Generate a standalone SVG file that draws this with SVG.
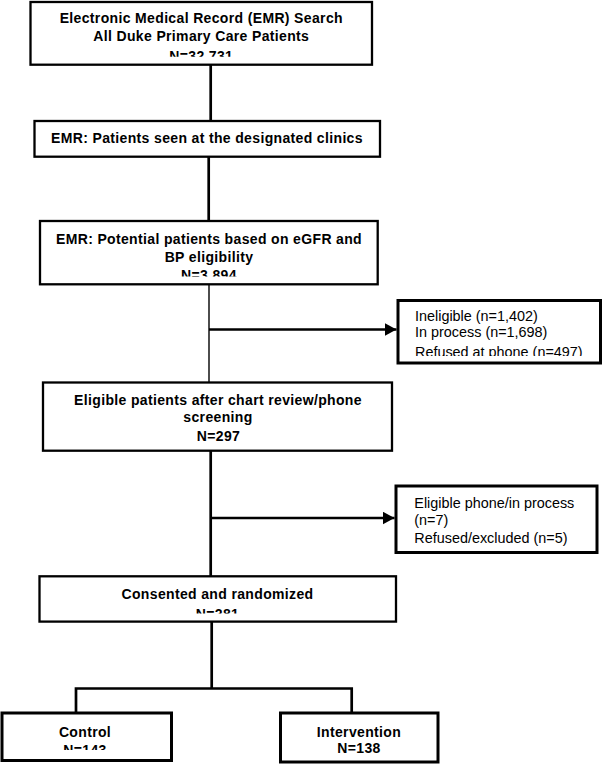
<svg xmlns="http://www.w3.org/2000/svg" width="603" height="764" viewBox="0 0 603 764">
<style>
.box{fill:#fff;stroke:#000;stroke-width:2.3}
.box2{fill:#fff;stroke:#000;stroke-width:3}
.b{font-family:"Liberation Sans",Arial,sans-serif;font-weight:bold;font-size:14px;letter-spacing:0.35px;text-anchor:middle;fill:#000}
.r{font-family:"Liberation Sans",Arial,sans-serif;font-size:14.4px;fill:#000}
.ln{stroke:#000;stroke-width:2.7;fill:none}
.thin{stroke:#000;stroke-width:1.4;fill:none}
</style>
<defs>
<clipPath id="c1"><rect x="0" y="0" width="603" height="56.7"/></clipPath>
<clipPath id="c3"><rect x="0" y="200" width="603" height="76.5"/></clipPath>
<clipPath id="cs1"><rect x="0" y="300" width="603" height="56"/></clipPath>
<clipPath id="c5"><rect x="0" y="570" width="603" height="43.5"/></clipPath>
<clipPath id="cc"><rect x="0" y="700" width="603" height="50"/></clipPath>
<marker id="ah" markerWidth="12" markerHeight="13" refX="12" refY="6.5" orient="auto" markerUnits="userSpaceOnUse">
<path d="M0,0 L12,6.5 L0,13 Z" fill="#000"/>
</marker>
</defs>
<g id="connectors">
<line class="ln" x1="210.7" y1="65" x2="210.7" y2="121"/>
<line class="ln" x1="208.7" y1="157" x2="208.7" y2="221"/>
<line class="thin" x1="209" y1="284" x2="209" y2="382"/>
<line class="ln" x1="209" y1="329.5" x2="396.5" y2="329.5" marker-end="url(#ah)"/>
<line class="ln" x1="210.7" y1="451" x2="210.7" y2="576"/>
<line class="ln" x1="210.7" y1="518" x2="394.5" y2="518" marker-end="url(#ah)"/>
<line class="ln" x1="211.7" y1="622" x2="211.7" y2="688.5"/>
<polyline class="ln" points="76,713 76,688.5 351.7,688.5 351.7,713"/>
</g>
<g id="n1">
<rect class="box" x="30.5" y="2" width="341.5" height="62.7"/>
<text class="b" x="201.3" y="22.7">Electronic Medical Record (EMR) Search</text>
<text class="b" x="201.3" y="40.7">All Duke Primary Care Patients</text>
<text class="b" x="201.3" y="60.5" clip-path="url(#c1)">N=32,731</text>
</g>
<g id="n2">
<rect class="box" x="34.5" y="121" width="345.5" height="35.7"/>
<text class="b" x="207" y="143.3">EMR: Patients seen at the designated clinics</text>
</g>
<g id="n3">
<rect class="box" x="40" y="221" width="337.7" height="63.3"/>
<text class="b" x="209" y="243.7">EMR: Potential patients based on eGFR and</text>
<text class="b" x="209" y="261.5">BP eligibility</text>
<text class="b" x="209" y="280.3" clip-path="url(#c3)">N=3,894</text>
</g>
<g id="s1">
<rect class="box2" x="398" y="300.5" width="202.5" height="62.5"/>
<text class="r" x="415" y="320.7">Ineligible (n=1,402)</text>
<text class="r" x="415" y="337.3">In process (n=1,698)</text>
<text class="r" x="415" y="356.5" clip-path="url(#cs1)">Refused at phone (n=497)</text>
</g>
<g id="n4">
<rect class="box" x="43" y="382.5" width="349" height="68.2"/>
<text class="b" x="218" y="405">Eligible patients after chart review/phone</text>
<text class="b" x="218" y="422">screening</text>
<text class="b" x="218.5" y="440.7">N=297</text>
</g>
<g id="s2">
<rect class="box2" x="396" y="486" width="201" height="66.5"/>
<text class="r" x="414.3" y="507.7">Eligible phone/in process</text>
<text class="r" x="414.3" y="525">(n=7)</text>
<text class="r" x="414.3" y="543">Refused/excluded (n=5)</text>
</g>
<g id="n5">
<rect class="box" x="39.5" y="576.3" width="356.5" height="45.3"/>
<text class="b" x="217.5" y="599">Consented and randomized</text>
<text class="b" x="217.5" y="618.5" clip-path="url(#c5)">N=281</text>
</g>
<g id="n6">
<rect class="box2" x="2" y="713" width="169.5" height="47.5"/>
<text class="b" x="85" y="736.7">Control</text>
<text class="b" x="85" y="754.5" clip-path="url(#cc)">N=143</text>
</g>
<g id="n7">
<rect class="box2" x="280.5" y="713" width="157.5" height="49"/>
<text class="b" x="359" y="736.7">Intervention</text>
<text class="b" x="359" y="753.3">N=138</text>
</g>
</svg>
